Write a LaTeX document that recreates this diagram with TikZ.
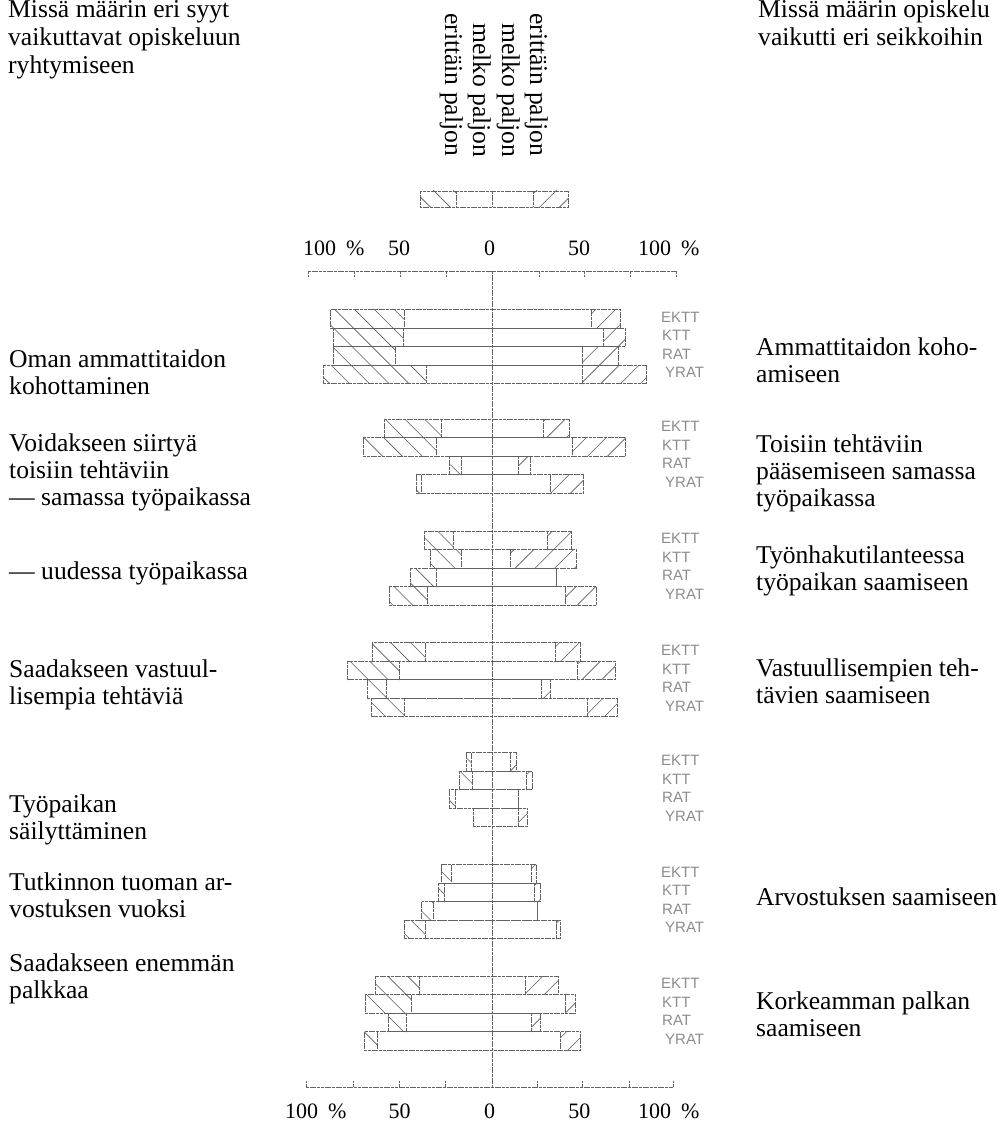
\documentclass[tikz,border=0pt]{standalone}
\usepackage{fontspec}
\setmainfont{Liberation Serif}
\newfontfamily\labsans{Liberation Sans}
\usetikzlibrary{patterns.meta}
\tikzset{
  barline/.style={draw=black!62, line width=0.7pt, dash pattern=on 3pt off 0.7pt},
  hatchL/.style={pattern={Lines[angle=-45,distance=14pt,line width=0.6pt]}, pattern color=black!65},
  hatchR/.style={pattern={Lines[angle=45,distance=14pt,line width=0.6pt]}, pattern color=black!65},
  txt/.style={anchor=base west, inner sep=0pt, font=\fontsize{25.6}{27.5}\selectfont},
  vtxt/.style={txt, rotate=-90},
  axlab/.style={anchor=base, inner sep=0pt, font=\fontsize{22}{24}\selectfont},
  axlabw/.style={axlab, anchor=base west},
  grplab/.style={anchor=west, inner sep=0pt, font=\labsans\fontsize{15}{15}\selectfont, text=black!45},
}
% #1 top y, #2 left edge, #3 end of left hatch, #4 start of right hatch, #5 right edge
\newcommand\kbar[5]{%
  \path[hatchL] (#2,#1) rectangle (#3,#1+18.5);
  \path[hatchR] (#4,#1) rectangle (#5,#1+18.5);
  \draw[barline] (#2,#1) rectangle (#5,#1+18.5);
  \draw[barline] (#3,#1) -- (#3,#1+18.5) (#4,#1) -- (#4,#1+18.5);
}
% group labels: #1 top y of group, #2 name prefix
\newcommand\klabels[2]{%
  \node[grplab] (#2e) at (661,#1+7.8) {EKTT};
  \node[grplab] (#2k) at (662,#1+26.3) {KTT};
  \node[grplab] (#2r) at (662,#1+44.8) {RAT};
  \node[grplab] (#2y) at (665,#1+63.3) {YRAT};
}
\begin{document}
\begin{tikzpicture}[x=1pt,y=-1pt]
\useasboundingbox (0,0) rectangle (1000,1123);

% ---------- titles ----------
\node[txt] (tl1) at (8,18) {Missä määrin eri syyt};
\node[txt] (tl2) at (8,46) {vaikuttavat opiskeluun};
\node[txt] (tl3) at (8,74) {ryhtymiseen};
\node[txt] (tr1) at (758,18) {Missä määrin opiskelu};
\node[txt] (tr2) at (758,46) {vaikutti eri seikkoihin};

% ---------- rotated column heads ----------
\node[vtxt] (v1) at (445,13) {erittäin paljon};
\node[vtxt] (v2) at (473,23) {melko paljon};
\node[vtxt] (v3) at (502,23) {melko paljon};
\node[vtxt] (v4) at (530,13) {erittäin paljon};

% ---------- legend box ----------
\path[hatchL] (420,191) rectangle (456,207);
\path[hatchR] (533,191) rectangle (568,207);
\draw[barline] (420,191) rectangle (568,207);
\draw[barline] (456,191) -- (456,207) (492,191) -- (492,207) (533,191) -- (533,207);

% ---------- axes ----------
\coordinate (axtop) at (492,271);
\coordinate (axbot) at (492,1087);
\draw[barline] (axtop) -- (axbot);
\draw[barline] (308,271) -- (676,271);
\foreach \t in {308,354,400,446,539,584,630,676} \draw[barline] (\t,271) -- (\t,277);
\draw[barline] (306,1087) -- (673,1087);
\foreach \t in {306,353,399,445,537,582,629,673} \draw[barline] (\t,1087) -- (\t,1081);

\node[axlabw] (at1) at (303,255) {100\hspace{0.45em}\%};
\node[axlab]  (at2) at (399,255) {50};
\node[axlab]  (at3) at (489.5,255) {0};
\node[axlab]  (at4) at (579,255) {50};
\node[axlabw] (at5) at (638,255) {100\hspace{0.45em}\%};
\node[axlabw] (ab1) at (285,1118) {100\hspace{0.45em}\%};
\node[axlab]  (ab2) at (399.5,1118) {50};
\node[axlab]  (ab3) at (489.5,1118) {0};
\node[axlab]  (ab4) at (579.3,1118) {50};
\node[axlabw] (ab5) at (638,1118) {100\hspace{0.45em}\%};

% ---------- group 1 ----------
\kbar{309.5}{330.7}{404}{591.7}{620.7}
\kbar{328}{333.3}{403.3}{603.3}{625}
\kbar{346.5}{333.3}{395}{582.3}{618.3}
\kbar{365}{323.3}{426}{582.3}{646.7}
\klabels{309.5}{g1}
% ---------- group 2 ----------
\kbar{419}{384.3}{441}{543.3}{569}
\kbar{437.5}{363.3}{436.7}{572.7}{625.7}
\kbar{456}{449.3}{461.7}{518.3}{530.7}
\kbar{474.5}{416}{421.7}{550.7}{583.3}
\klabels{419}{g2}
% ---------- group 3 ----------
\kbar{531}{424.3}{453.3}{547.3}{571.7}
\kbar{549.5}{430}{461.7}{510}{576.7}
\kbar{568}{410}{436.7}{556}{556}
\kbar{586.5}{389.3}{427.7}{565}{596}
\klabels{531}{g3}
% ---------- group 4 ----------
\kbar{642.7}{372.3}{425}{555}{580}
\kbar{661.2}{347.7}{399.3}{577.7}{615}
\kbar{679.7}{367.3}{386.7}{541}{550.7}
\kbar{698.2}{371.7}{404}{587.3}{617.3}
\klabels{642.7}{g4}
% ---------- group 5 ----------
\kbar{752.7}{466}{471.7}{510}{516.7}
\kbar{771.2}{459}{472.7}{526.7}{532.7}
\kbar{789.7}{449.3}{455.7}{518.3}{518.3}
\kbar{808.2}{473.3}{473.3}{518.3}{527.3}
\klabels{752.7}{g5}
% ---------- group 6 ----------
\kbar{864.5}{441}{451.7}{531.7}{536.7}
\kbar{883}{438.3}{444.3}{534}{540.7}
\kbar{901.5}{421.7}{433.3}{537.7}{537.7}
\kbar{920}{404}{425}{556}{560.7}
\klabels{864.5}{g6}
% ---------- group 7 ----------
\kbar{976}{375}{419.3}{525.7}{558.3}
\kbar{994.5}{365}{411.7}{565}{575}
\kbar{1013}{388.3}{406}{531.7}{540}
\kbar{1031.5}{364.3}{377.7}{560}{580.7}
\klabels{976}{g7}

% ---------- left labels ----------
\node[txt] (a1) at (9,367) {Oman ammattitaidon};
\node[txt] (a2) at (9,394.5) {kohottaminen};
\node[txt] (b1) at (9,451) {Voidakseen siirtyä};
\node[txt] (b2) at (9,478) {toisiin tehtäviin};
\node[txt] (b3) at (9,505.5) {— samassa työpaikassa};
\node[txt] (c1) at (9,579) {— uudessa työpaikassa};
\node[txt] (d1) at (9,677) {Saadakseen vastuul-};
\node[txt] (d2) at (9,704) {lisempia tehtäviä};
\node[txt] (e1) at (9,812) {Työpaikan};
\node[txt] (e2) at (9,839.5) {säilyttäminen};
\node[txt] (f1) at (9,890) {Tutkinnon tuoman ar-};
\node[txt] (f2) at (9,917.5) {vostuksen vuoksi};
\node[txt] (h1) at (9,971) {Saadakseen enemmän};
\node[txt] (h2) at (9,998) {palkkaa};

% ---------- right labels ----------
\node[txt] (ra1) at (756,355) {Ammattitaidon koho-};
\node[txt] (ra2) at (756,382) {amiseen};
\node[txt] (rb1) at (756,452) {Toisiin tehtäviin};
\node[txt] (rb2) at (756,479) {pääsemiseen samassa};
\node[txt] (rb3) at (756,506) {työpaikassa};
\node[txt] (rc1) at (756,563) {Työnhakutilanteessa};
\node[txt] (rc2) at (756,590) {työpaikan saamiseen};
\node[txt] (rd1) at (756,676) {Vastuullisempien teh-};
\node[txt] (rd2) at (756,703) {tävien saamiseen};
\node[txt] (re1) at (756,905) {Arvostuksen saamiseen};
\node[txt] (rf1) at (756,1009) {Korkeamman palkan};
\node[txt] (rf2) at (756,1036) {saamiseen};
\end{tikzpicture}
\end{document}
